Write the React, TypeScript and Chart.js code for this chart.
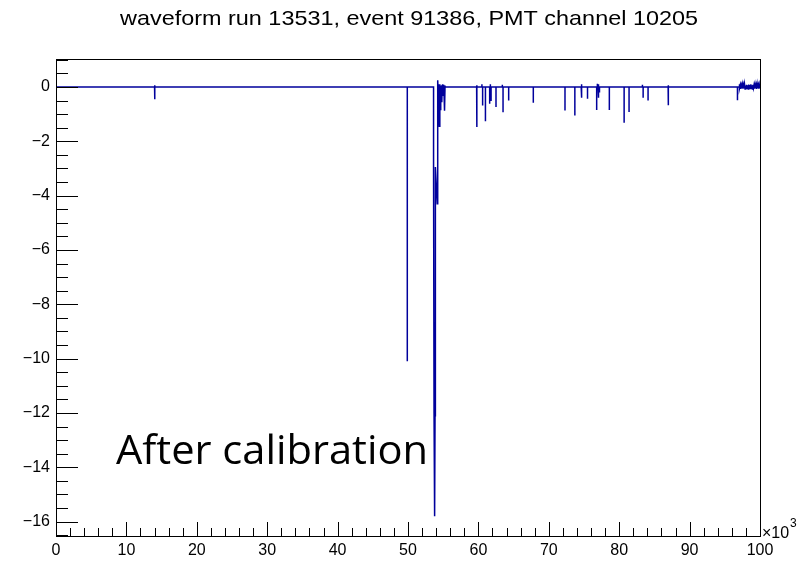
import React, { useEffect, useRef } from "react";
import { Chart, registerables } from "chart.js";

Chart.register(...registerables);

const titleText = "waveform run 13531, event 91386, PMT channel 10205";
const noteText = "After calibration";

// Isolated single-sample spikes (time in samples, calibrated amplitude)
const spikeTimes = [
  14000, 14050, 49900, 59750, 59800, 60500, 60600, 61000, 61600, 61700, 61800,
  62500, 63400, 63500, 64300, 67800, 72300, 73700, 74600, 74700, 75500, 76800,
  76900, 77000, 77100, 77200, 78600, 80700, 81400, 83300, 83400, 84100, 86950,
  87000, 96800,
];
const spikeAmps = [
  -0.45, 0.06, -10.1, 0.06, -1.47, 0.1, -0.68, -1.26, -0.62, 0.1, -0.52,
  -0.74, 0.08, -0.93, -0.5, -0.58, -0.87, -1.05, 0.1, -0.4, -0.43, -0.85,
  0.12, -0.4, 0.1, -0.2, -0.85, -1.32, -0.92, 0.08, -0.4, -0.5, 0.06,
  -0.67, -0.49,
];

// Main photoelectron pulse with its ringing tail (consecutive samples)
const pulseTimes = [
  53630, 53700, 53760, 53800, 53840, 53880, 53900, 54150, 54220, 54280, 54330,
  54380, 54440, 54500, 54540, 54580, 54650, 54720, 54800, 54860, 54900, 54960,
  55000, 55060, 55100, 55190, 55260,
];
const pulseAmps = [
  -2.9, -12.0, -12.2, -15.8, -12.1, -12.0, -2.95, -4.3, 0.25, -0.2, -1.26,
  0.1, -1.45, 0.1, -0.3, -0.83, 0.05, -0.25, -0.56, 0.08, 0.1, -0.2,
  -0.3, 0.06, 0.08, -0.87, 0.05,
];

// Noisy end of the readout window
const tailTimes = [
  97050, 97125, 97200, 97275, 97350, 97425, 97500, 97575, 97650, 97725,
  97800, 97875, 97950, 98025, 98100, 98175, 98250, 98325, 98400, 98475,
  98550, 98625, 98700, 98775, 98850, 98925, 99000, 99075, 99150, 99225,
  99300, 99375, 99450, 99525, 99600, 99675, 99750, 99825, 99900, 99975,
];
const tailAmps = [
  0.1, -0.05, 0.08, -0.07, 0.06, -0.04, 0.09, -0.06, 0.07, -0.05,
  0.1, -0.07, 0.05, -0.06, 0.08, -0.04, 0.06, -0.07, 0.09, -0.05,
  0.07, -0.06, 0.1, -0.05, 0.06, -0.07, 0.08, -0.04, 0.07, -0.06,
  0.09, -0.05, 0.06, -0.07, 0.1, -0.04, 0.07, -0.06, 0.08, -0.05,
];

const xMin = 0;
const xMax = 100000;
const yMin = -16.53;
const yMax = 1.03;
const xTickValues = [0, 10000, 20000, 30000, 40000, 50000, 60000, 70000, 80000, 90000, 100000];
const yTickValues = [-16, -14, -12, -10, -8, -6, -4, -2, 0];
const xMinorStep = 2000;
const yMinorStep = 0.5;

const axisFont = "'Liberation Sans', Arial, Helvetica, sans-serif";

type Pt = { x: number; y: number };

function buildTrace(): Pt[] {
  const segments: Pt[][] = [];
  spikeTimes.forEach((t, i) => {
    segments.push([
      { x: t, y: 0 },
      { x: t, y: spikeAmps[i] },
      { x: t, y: 0 },
    ]);
  });
  const pulse: Pt[] = [{ x: pulseTimes[0], y: 0 }];
  pulseTimes.forEach((t, i) => pulse.push({ x: t, y: pulseAmps[i] }));
  pulse.push({ x: pulseTimes[pulseTimes.length - 1], y: 0 });
  segments.push(pulse);
  const tail: Pt[] = [{ x: tailTimes[0], y: 0 }];
  tailTimes.forEach((t, i) => tail.push({ x: t, y: tailAmps[i] }));
  segments.push(tail);
  segments.sort((a, b) => a[0].x - b[0].x);
  const pts: Pt[] = [{ x: xMin, y: 0 }];
  segments.forEach((s) => pts.push(...s));
  pts.push({ x: xMax, y: 0 });
  return pts;
}

function fitText(ctx: CanvasRenderingContext2D, text: string, x: number, y: number, width: number, align: "left" | "center") {
  const w = ctx.measureText(text).width;
  const sx = width / w;
  ctx.save();
  ctx.translate(x, y);
  ctx.scale(sx, 1);
  ctx.textAlign = align;
  ctx.textBaseline = "alphabetic";
  ctx.fillText(text, 0, 0);
  ctx.restore();
}

const framePlugin = {
  id: "rootFrame",
  afterDraw(chart: any) {
    const ctx: CanvasRenderingContext2D = chart.ctx;
    const { left, right, top, bottom } = chart.chartArea;
    const xs = chart.scales.x;
    const ys = chart.scales.y;
    ctx.save();
    ctx.strokeStyle = "#000";
    ctx.lineWidth = 1;
    // frame
    ctx.strokeRect(Math.round(left) + 0.5, Math.round(top) + 0.5, Math.round(right - left), Math.round(bottom - top));

    // y ticks, pointing into the frame
    ctx.beginPath();
    const nY = Math.round((yMax - yMin) / yMinorStep) + 2;
    const yStart = Math.ceil(yMin / yMinorStep) * yMinorStep;
    for (let i = 0; i < nY; i++) {
      const v = yStart + i * yMinorStep;
      if (v > yMax) break;
      const py = Math.round(ys.getPixelForValue(v)) + 0.5;
      const major = Math.abs(v / 2 - Math.round(v / 2)) < 1e-6;
      const len = major ? 22 : 12;
      ctx.moveTo(left, py);
      ctx.lineTo(left + len, py);
    }
    // x ticks, pointing up into the frame
    for (let v = xMin; v <= xMax; v += xMinorStep) {
      const px = Math.round(xs.getPixelForValue(v)) + 0.5;
      const major = v % 10000 === 0;
      const len = major ? 14 : 8;
      ctx.moveTo(px, bottom);
      ctx.lineTo(px, bottom - len);
    }
    ctx.stroke();

    // exponent of the time axis
    ctx.fillStyle = "#000";
    ctx.font = `16px ${axisFont}`;
    ctx.textAlign = "left";
    ctx.textBaseline = "alphabetic";
    ctx.fillText("\u00d710", right + 2, bottom + 2);
    ctx.font = `12px ${axisFont}`;
    ctx.fillText("3", right + 30, bottom - 9);

    // title
    ctx.font = `21px ${axisFont}`;
    fitText(ctx, titleText, 409, 25, 578, "center");

    // annotation
    ctx.font = `40px 'Open Sans', 'Noto Sans', sans-serif`;
    fitText(ctx, noteText, 116, 464, 312, "left");
    ctx.restore();
  },
};

export default function App() {
  const ref = useRef<HTMLCanvasElement | null>(null);
  useEffect(() => {
    if (!ref.current) return;
    const chart = new Chart(ref.current, {
      type: "scatter",
      data: {
        datasets: [
          {
            data: buildTrace(),
            showLine: true,
            borderColor: "#00009c",
            backgroundColor: "#00009c",
            borderWidth: 1.5,
            pointRadius: 0,
            tension: 0,
            fill: false,
          },
        ],
      },
      options: {
        animation: false,
        responsive: false,
        devicePixelRatio: 1,
        layout: { padding: { top: 59, right: 51, left: 0, bottom: 0 } },
        plugins: {
          legend: { display: false },
          tooltip: { enabled: false },
          title: { display: false },
        },
        scales: {
          x: {
            type: "linear",
            min: xMin,
            max: xMax,
            grid: { display: false, drawTicks: false },
            border: { display: false },
            afterBuildTicks: (s: any) => {
              s.ticks = xTickValues.map((v) => ({ value: v }));
            },
            afterFit: (s: any) => {
              s.height = 27;
            },
            ticks: {
              padding: 5,
              color: "#000",
              font: { family: axisFont, size: 16 },
              maxRotation: 0,
              autoSkip: false,
              callback: (v: any) => String(Number(v) / 1000),
            },
          },
          y: {
            type: "linear",
            min: yMin,
            max: yMax,
            grid: { display: false, drawTicks: false },
            border: { display: false },
            afterBuildTicks: (s: any) => {
              s.ticks = yTickValues.map((v) => ({ value: v }));
            },
            afterFit: (s: any) => {
              s.width = 56;
            },
            ticks: {
              padding: 6,
              color: "#000",
              font: { family: axisFont, size: 16 },
              autoSkip: false,
              callback: (v: any) => (Number(v) < 0 ? "\u2212" + String(-Number(v)) : String(v)),
            },
          },
        },
      },
      plugins: [framePlugin],
    });
    return () => chart.destroy();
  }, []);
  return (
    <div style={{ position: "fixed", left: 0, top: 0, width: 811, height: 563, background: "#fff" }}>
      <canvas ref={ref} width={811} height={563} />
    </div>
  );
}
